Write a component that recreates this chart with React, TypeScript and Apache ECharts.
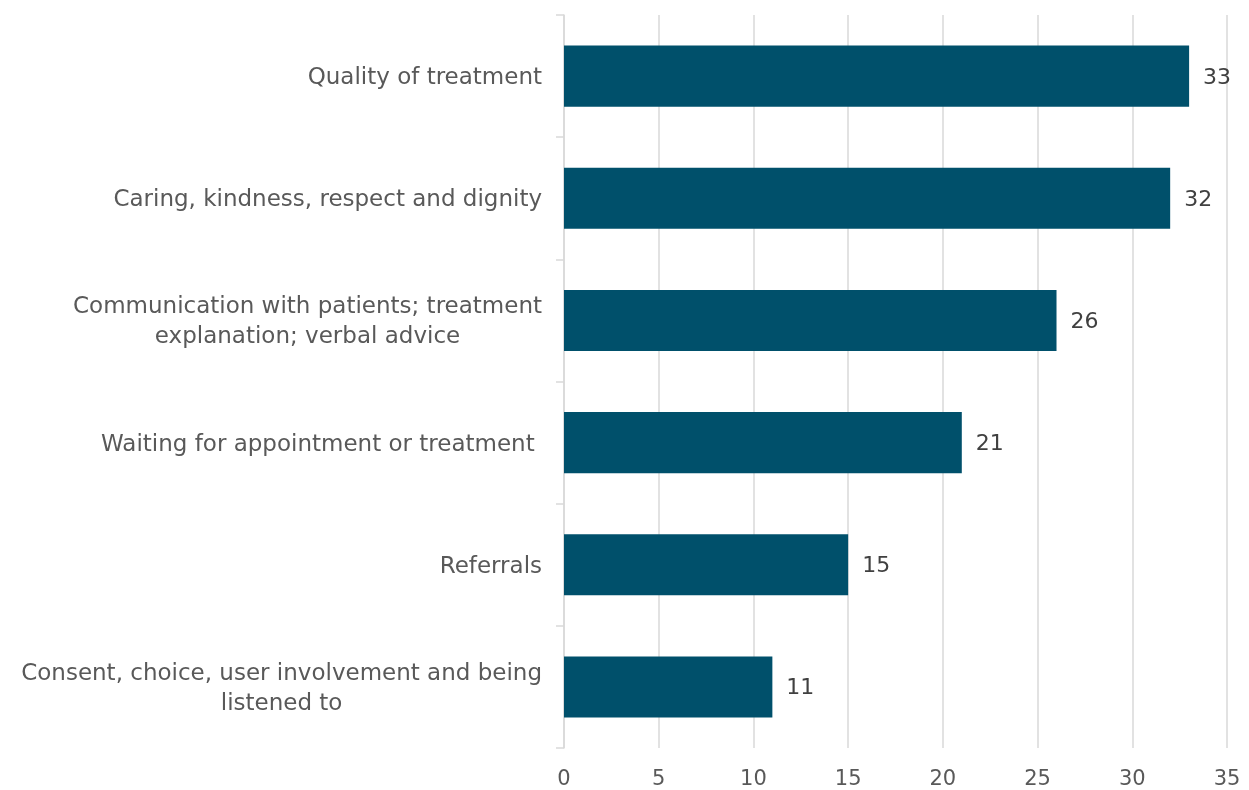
import React, { useEffect, useRef } from "react";
import * as echarts from "echarts";

const categories = [
  "Quality of treatment",
  "Caring, kindness, respect and dignity",
  "Communication with patients; treatment\nexplanation; verbal advice",
  "Waiting for appointment or treatment ",
  "Referrals",
  "Consent, choice, user involvement and being\nlistened to",
];
const values = [33, 32, 26, 21, 15, 11];
const xTicks = { min: 0, max: 35, interval: 5 };

const FONT = "'DejaVu Sans', sans-serif";

export default function App() {
  const ref = useRef<HTMLDivElement>(null);
  useEffect(() => {
    if (!ref.current) return;
    const chart = echarts.init(ref.current, undefined, { renderer: "svg" });
    chart.setOption({
      animation: false,
      grid: { left: 564, right: 22, top: 15, bottom: 42, containLabel: false },
      xAxis: {
        type: "value",
        min: xTicks.min,
        max: xTicks.max,
        interval: xTicks.interval,
        axisLine: { show: false },
        axisTick: { show: false },
        splitLine: { show: true, lineStyle: { color: "#d9d9d9", width: 1.5 } },
        axisLabel: { color: "#595959", fontSize: 21, fontFamily: FONT, margin: 19 },
      },
      yAxis: {
        type: "category",
        inverse: true,
        data: categories,
        axisLine: { show: true, lineStyle: { color: "#d9d9d9", width: 1.5 } },
        axisTick: { show: true, length: 8, lineStyle: { color: "#d9d9d9", width: 1.5 } },
        axisLabel: {
          color: "#595959",
          fontSize: 23,
          fontFamily: FONT,
          margin: 22,
          lineHeight: 30,
          formatter: (v: string) => v.split("\n").map((l) => `{c|${l}}`).join("\n"),
          rich: { c: { align: "center", color: "#595959", fontSize: 23, fontFamily: FONT, lineHeight: 30 } },
        },
      },
      series: [
        {
          type: "bar",
          data: values,
          barCategoryGap: "50%",
          itemStyle: { color: "#00506B" },
          label: {
            show: true,
            position: "right",
            distance: 14,
            color: "#404040",
            fontSize: 22,
            fontFamily: FONT,
          },
        },
      ],
    });
    return () => chart.dispose();
  }, []);
  return <div ref={ref} style={{ position: "fixed", left: 0, top: 0, width: 1249, height: 790 }} />;
}
